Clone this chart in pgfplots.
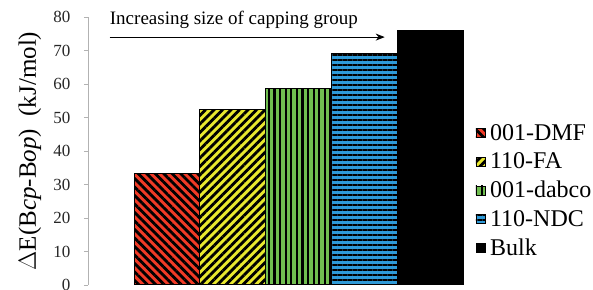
\documentclass[border=0pt]{standalone}
\usepackage{fontspec}
\setmainfont{Liberation Serif}
\usepackage{pgfplots}
\pgfplotsset{compat=1.18}
\usetikzlibrary{patterns.meta,arrows.meta}
\definecolor{cred}{RGB}{240,58,38}
\definecolor{cyel}{RGB}{232,232,46}
\definecolor{cgrn}{RGB}{112,190,80}
\definecolor{cblu}{RGB}{46,154,216}
\begin{document}
\begin{tikzpicture}
\begin{axis}[
  name=ax,
  scale only axis, width=375pt, height=268pt,
  xmin=-1.2, xmax=4.5, ymin=0, ymax=80,
  axis lines*=left,
  x axis line style={draw=none},
  y axis line style={draw=black!30, line width=0.8pt},
  xtick=\empty,
  ytick={0,10,...,80},
  tick align=outside,
  major tick length=4pt,
  ytick style={draw=black!30, line width=0.8pt},
  /pgf/number format/assume math mode=true,
  yticklabel style={font=\fontsize{17}{20}\selectfont, xshift=-10pt, text=black!85},
  ylabel={$\Delta$E(B\textit{cp}-B\textit{op})\ \ (kJ/mol)},
  ylabel style={at={(axis description cs:-0.155,0.5)}, anchor=center, font=\fontsize{25}{28}\selectfont},
  ybar, bar width=1,
  legend cell align=left,
  legend style={at={(rel axis cs:1.033,0.352)}, anchor=west, draw=none, fill=none,
    font=\fontsize{24}{28}\selectfont, row sep=7pt, column sep=3pt, inner sep=0pt},
  legend image code/.code={\draw[#1,line width=0.5pt] (0pt,-4.5pt) rectangle (9pt,4.5pt);},
  clip=false,
]
\addplot[bar shift=0pt, draw=black, line width=1pt, fill=cred,
  postaction={pattern={Lines[angle=-45,distance=6pt,line width=2.8pt]}, pattern color=black}]
  coordinates {(0,33.2)};
\addlegendentry{001-DMF}
\addplot[bar shift=0pt, draw=black, line width=1pt, fill=cyel,
  postaction={pattern={Lines[angle=45,distance=6pt,line width=2.8pt]}, pattern color=black}]
  coordinates {(1,52.4)};
\addlegendentry{110-FA}
\addplot[bar shift=0pt, draw=black, line width=1pt, fill=cgrn,
  postaction={pattern={Lines[angle=90,distance=5.6pt,line width=2.2pt]}, pattern color=black}]
  coordinates {(2,58.8)};
\addlegendentry{001-dabco}
\addplot[bar shift=0pt, draw=black, line width=1pt, fill=cblu,
  postaction={pattern={Lines[angle=0,distance=5pt,line width=1.3pt]}, pattern color=black}]
  coordinates {(3,69.1)};
\addlegendentry{110-NDC}
\addplot[bar shift=0pt, draw=black, line width=1pt, fill=black]
  coordinates {(4,76.1)};
\addlegendentry{Bulk}
\draw[-{Stealth[length=9pt,width=7pt]}, line width=0.9pt] (axis cs:-0.87,74) -- (axis cs:3.31,74);
\node[anchor=west, font=\fontsize{19}{22}\selectfont, inner sep=0pt] at (axis cs:-0.87,79) {Increasing size of capping group};
\end{axis}
\pgfresetboundingbox
\path[use as bounding box] ([shift={(-88pt,-5pt)}]ax.south west) rectangle ([shift={(130pt,17pt)}]ax.north east);
\end{tikzpicture}
\end{document}
